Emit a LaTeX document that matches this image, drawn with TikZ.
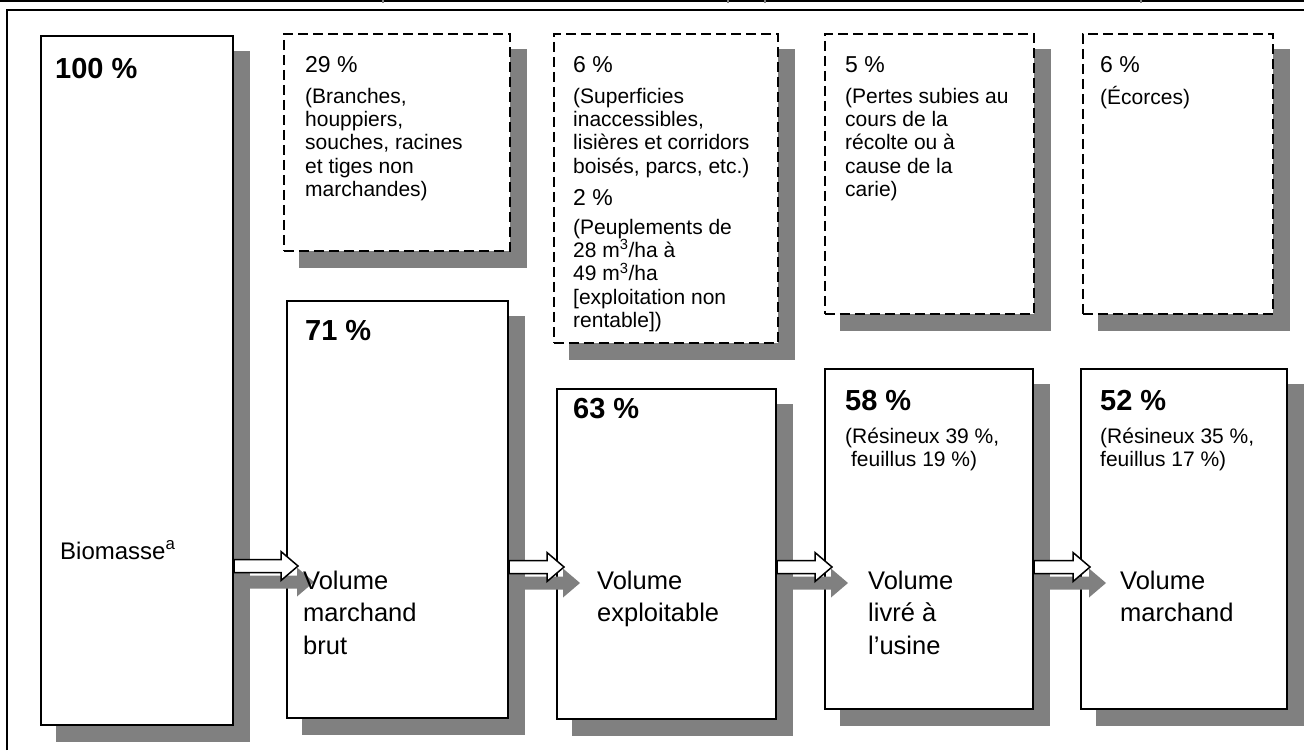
\documentclass[tikz,border=0pt]{standalone}
\usepackage{fontspec}
\setmainfont{Liberation Sans}
\usetikzlibrary{calc,backgrounds}
\definecolor{shadegray}{RGB}{128,128,128}
\newcommand\topstrut[1]{\vrule height #1pt depth 0pt width 0pt}
\newcommand\blkarrow[3]{%
  \path[#3] (#1) ++(0,-6.5) -- ++(#2,0) -- ++(0,-8) -- ++(17,14.5) -- ++(-17,14.5) -- ++(0,-8) -- ++(-#2,0) -- cycle;}
\begin{document}
\begin{tikzpicture}[x=1pt,y=-1pt,
  box/.style={draw=black, line width=2pt, fill=white, inner sep=0, anchor=north west},
  dbox/.style={box, line width=1.6pt, dash pattern=on 10pt off 5pt},
  pct/.style={font=\fontsize{29}{33}\selectfont\bfseries, anchor=base west, inner sep=0},
  big/.style={font=\fontsize{23}{26}\selectfont, anchor=base west, inner sep=0},
  small/.style={font=\fontsize{21}{23.3}\selectfont, anchor=north west, inner sep=0, align=left},
  vol/.style={font=\fontsize{25.5}{32.5}\selectfont, anchor=north west, inner sep=0, align=left},
  arrshadow/.style={fill=shadegray},
  arrwhite/.style={fill=white, draw=black, line width=1.5pt, line join=miter},
]
\useasboundingbox (0,0) rectangle (1304,750);

% page frame
\draw[line width=1.5pt] (0,1) -- (1304,1);
\foreach \x in {383,728,765,1141} \draw[shadegray, line width=1.5pt] (\x,0) -- (\x,3);
\draw[line width=2pt] (7,750) -- (7,10) -- (1304,10);

% boxes
\node[box, minimum width=192, minimum height=689] (b1) at (40,35) {};
\node[dbox, minimum width=226, minimum height=217] (d1) at (283,33) {};
\node[box, minimum width=221, minimum height=417] (s2) at (286,300) {};
\node[dbox, minimum width=224, minimum height=309] (d2) at (553,33) {};
\node[box, minimum width=219, minimum height=330] (s3) at (556,388) {};
\node[dbox, minimum width=209, minimum height=280] (d3) at (824,33) {};
\node[box, minimum width=208, minimum height=340] (s4) at (824,368) {};
\node[dbox, minimum width=190, minimum height=280] (d4) at (1082,33) {};
\node[box, minimum width=206, minimum height=340] (s5) at (1080,368) {};

\begin{scope}[on background layer]
  \foreach \n in {b1,d1,s2,d2,s3,d3,s4,d4,s5}
    \fill[shadegray] ($(\n.north west)+(16,16)$) rectangle ($(\n.south east)+(16,16)$);
\end{scope}

% block arrows
\coordinate (a1) at ($(b1.north east)+(0,531)$);
\coordinate (a2) at ($(s2.north east)+(0,267)$);
\coordinate (a3) at ($(s3.north east)+(0,179)$);
\coordinate (a4) at ($(s4.north east)+(0,199)$);
\coordinate (a1s) at ($(a1)+(16,16)$);
\coordinate (a2s) at ($(a2)+(16,16)$);
\coordinate (a3s) at ($(a3)+(16,16)$);
\coordinate (a4s) at ($(a4)+(16,16)$);
\blkarrow{a1s}{47}{arrshadow}
\blkarrow{a2s}{38}{arrshadow}
\blkarrow{a3s}{38}{arrshadow}
\blkarrow{a4s}{39}{arrshadow}
\blkarrow{a1}{47}{arrwhite}
\blkarrow{a2}{38}{arrwhite}
\blkarrow{a3}{38}{arrwhite}
\blkarrow{a4}{39}{arrwhite}

% texts column 1
\node[pct] (t100) at (55,78) {100 \%};
\node[font=\fontsize{24}{28}\selectfont, anchor=base west, inner sep=0] (tbio) at (60,559) {Biomasse\textsuperscript{a}};

% column 2
\node[big] (t29) at (305,72) {29 \%};
\node[small] (t29b) at (305,86) {\topstrut{17}(Branches,\\houppiers,\\souches, racines\\et tiges non\\marchandes)};
\node[pct] (t71) at (305,340) {71 \%};
\node[vol] (v2) at (303,569) {\topstrut{20}Volume\\marchand\\brut};

% column 3
\node[big] (t6a) at (573,72) {6 \%};
\node[small] (t6b) at (573,86) {\topstrut{17}(Superficies\\inaccessibles,\\lisières et corridors\\boisés, parcs, etc.)};
\node[big] (t2) at (573,205) {2 \%};
\node[small] (t2b) at (573,217) {\topstrut{17}(Peuplements de\\28 m\textsuperscript{3}/ha à\\49 m\textsuperscript{3}/ha\\{[}exploitation non\\rentable])};
\node[pct] (t63) at (573,418) {63 \%};
\node[vol] (v3) at (597,569) {\topstrut{20}Volume\\exploitable};

% column 4
\node[big] (t5) at (845,72) {5 \%};
\node[small] (t5b) at (845,86) {\topstrut{17}(Pertes subies au\\cours de la\\récolte ou à\\cause de la\\carie)};
\node[pct] (t58) at (845,410) {58 \%};
\node[small] (t58b) at (845,426) {\topstrut{17}(Résineux 39 \%,\\\hspace{0.28em}feuillus 19 \%)};
\node[vol] (v4) at (868,569) {\topstrut{20}Volume\\livré à\\l’usine};

% column 5
\node[big] (t6c) at (1100,72) {6 \%};
\node[small] (t6d) at (1100,86) {\topstrut{17}(Écorces)};
\node[pct] (t52) at (1100,410) {52 \%};
\node[small] (t52b) at (1100,426) {\topstrut{17}(Résineux 35 \%,\\feuillus 17 \%)};
\node[vol] (v5) at (1120,569) {\topstrut{20}Volume\\marchand};
\end{tikzpicture}
\end{document}
